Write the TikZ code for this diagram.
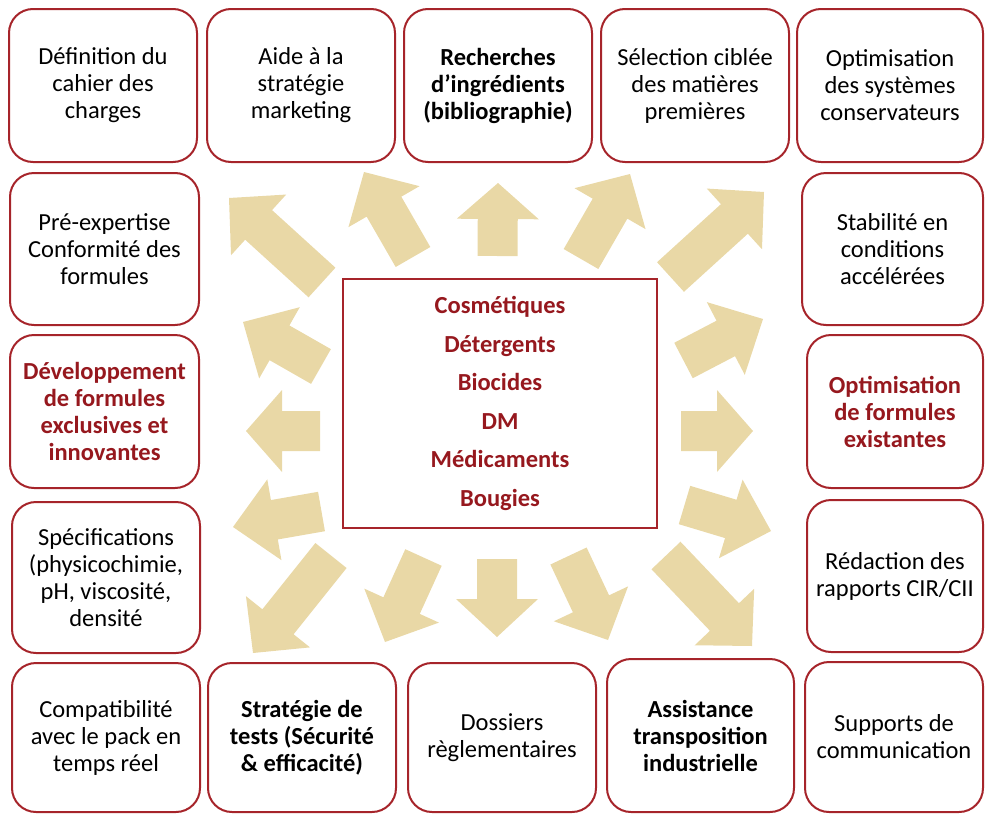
\documentclass[tikz,border=0pt]{standalone}
\usepackage{fontspec}
\setmainfont{Carlito}
\usetikzlibrary{calc}

\definecolor{boxred}{RGB}{166,36,42}
\definecolor{textred}{RGB}{150,24,30}
\definecolor{sand}{RGB}{233,216,166}

% block arrow: [head length]{name}{tail centre}{tip}
\newcommand\bkarrow[4][40]{%
  \coordinate (#2-tail) at #3;
  \coordinate (#2-tip) at #4;
  \coordinate (#2-base) at ($(#2-tip)!#1pt!(#2-tail)$);
  \fill[sand] ($(#2-tail)!20pt!90:(#2-tip)$)
    -- ($(#2-base)!20pt!-90:(#2-tail)$)
    -- ($(#2-base)!41pt!-90:(#2-tail)$)
    -- (#2-tip)
    -- ($(#2-base)!41pt!90:(#2-tail)$)
    -- ($(#2-base)!20pt!90:(#2-tail)$)
    -- ($(#2-tail)!20pt!-90:(#2-tip)$) -- cycle;}

% rounded service box: [style]{name}{x1}{y1}{x2}{y2}{text}
\newcommand\cbox[7][]{%
  \node[svc, #1, minimum width={(#5)-(#3)}, minimum height={(#6)-(#4)}]
    (#2) at ({((#3)+(#5))/2},{((#4)+(#6))/2}) {#7};}

\tikzset{
  svc/.style={draw=boxred, line width=2pt, rounded corners=24pt,
    align=center, inner sep=0pt, outer sep=0pt,
    font=\fontsize{24.5}{27}\selectfont},
  strong/.style={font=\bfseries\fontsize{24.5}{27}\selectfont},
  strongred/.style={font=\bfseries\fontsize{24.5}{27}\selectfont, text=textred},
}

\begin{document}
\begin{tikzpicture}[x=1pt, y=-1pt]
\useasboundingbox (0,0) rectangle (985,814);

% arrows radiating from the central box
\bkarrow{a1}{(322,282.5)}{(229,198)}
\bkarrow{a2}{(413,257)}{(364,172)}
\bkarrow[36]{a3}{(497.5,256)}{(498,183)}
\bkarrow{a4}{(581,259)}{(630,174)}
\bkarrow{a5}{(670.5,277)}{(764,192)}
\bkarrow[42]{a6}{(683.5,360.5)}{(763,319)}
\bkarrow[36]{a7}{(681,431)}{(753,431)}
\bkarrow[42]{a8}{(684.5,505)}{(771,531)}
\bkarrow{a9}{(666,555.5)}{(752,646)}
\bkarrow{a10}{(568.5,556)}{(608,640)}
\bkarrow[38]{a11}{(497,559)}{(497,637)}
\bkarrow{a12}{(423.5,557.5)}{(385,642)}
\bkarrow{a13}{(331,555.5)}{(253,653)}
\bkarrow[42]{a14}{(321.5,511.5)}{(233,527)}
\bkarrow[36]{a15}{(320,431)}{(246,431)}
\bkarrow[42]{a16}{(321,366.5)}{(243,322)}

% central box
\node[draw=boxred, line width=2pt, minimum width=314, minimum height=249,
  inner sep=0pt, align=center, text=textred,
  font=\bfseries\fontsize{24.5}{38.5}\selectfont] (core) at (500,403.5)
  {Cosmétiques\\Détergents\\Biocides\\DM\\Médicaments\\Bougies};

% top row
\cbox{t1}{9}{9}{197}{162}{Définition du\\cahier des\\charges}
\cbox{t2}{207}{9}{395}{162}{Aide à la\\stratégie\\marketing}
\cbox[strong]{t3}{404}{9}{592}{162}{Recherches\\d’ingrédients\\(bibliographie)}
\cbox{t4}{601}{9}{789}{162}{Sélection ciblée\\des matières\\premières}
\cbox{t5}{797}{9}{983}{162}{Optimisation\\des systèmes\\conservateurs}

% left column
\cbox{l1}{10}{173}{199}{325}{Pré-expertise\\Conformité des\\formules}
\cbox[strongred]{l2}{10}{335}{199}{488}{Développement\\de formules\\exclusives et\\innovantes}
\cbox{l3}{12}{502}{200}{653}{Spécifications\\(physicochimie,\\pH, viscosité,\\densité}

% right column
\cbox{r1}{802}{173}{983}{325}{Stabilité en\\conditions\\accélérées}
\cbox[strongred]{r2}{807}{335}{983}{488}{Optimisation\\de formules\\existantes}
\cbox{r3}{807}{500}{983}{652}{Rédaction des\\rapports CIR/CII}

% bottom row
\cbox{b1}{12}{663}{200}{812}{Compatibilité\\avec le pack en\\temps réel}
\cbox[strong]{b2}{208}{663}{396}{812}{Stratégie de\\tests (Sécurité\\\& efficacité)}
\cbox{b3}{408}{663}{596}{812}{Dossiers\\règlementaires}
\cbox[strong]{b4}{607}{659}{794}{812}{Assistance\\transposition\\industrielle}
\cbox{b5}{805}{662}{983}{812}{Supports de\\communication}
\end{tikzpicture}
\end{document}
